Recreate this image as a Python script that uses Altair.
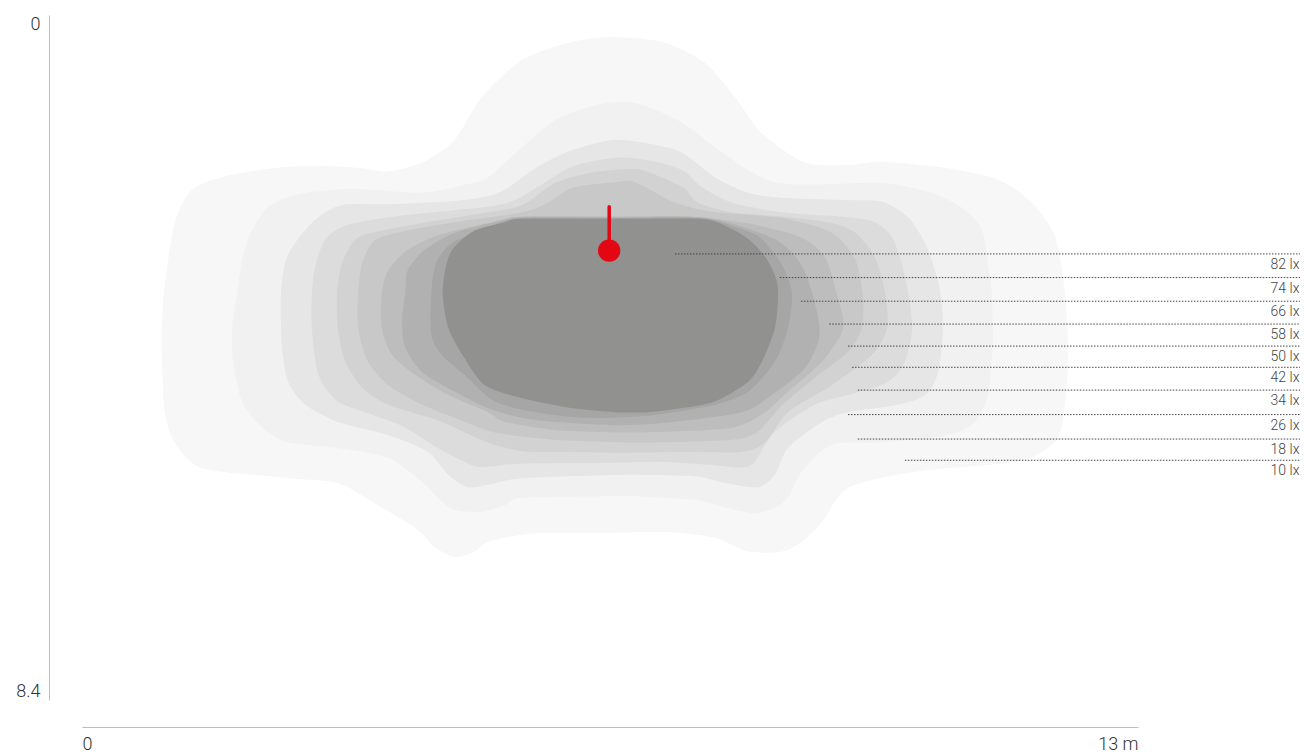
import altair as alt
import pandas as pd

# isolux levels (lx), from the outermost contour to the innermost one
LEVELS = [10, 18, 26, 34, 42, 50, 58, 66, 74, 82]
FILLS = ["#f7f7f7", "#f1f1f1", "#e6e6e6", "#dcdcdc", "#d2d2d2",
         "#c8c8c8", "#bdbdbd", "#b1b1b1", "#a6a6a6", "#919190"]

# contour outlines in metres (x across, y down)
ISO_10_X = [1.01, 1.14, 1.35, 1.72, 2.34, 2.95, 3.45, 3.77, 4.19, 4.59, 4.92, 5.42, 6.03, 6.56, 7.18, 7.67, 8.04, 8.37, 8.90, 9.43, 9.85, 10.66, 11.28, 11.69, 11.98, 12.10, 12.14, 12.06, 11.89, 11.49, 10.25, 9.43, 9.11, 8.86, 8.62, 8.20, 7.79, 7.18, 6.56, 5.54, 5.00, 4.84, 4.59, 4.35, 4.10, 3.57, 3.15, 2.54, 1.72, 1.39, 1.14, 1.02, 0.98]
ISO_10_Y = [3.41, 2.55, 2.15, 1.99, 1.88, 1.85, 1.88, 1.92, 1.81, 1.53, 1.01, 0.55, 0.33, 0.27, 0.34, 0.59, 1.01, 1.45, 1.81, 1.84, 1.80, 1.88, 2.02, 2.30, 2.72, 3.41, 4.25, 5.06, 5.31, 5.48, 5.60, 5.80, 6.22, 6.46, 6.58, 6.58, 6.41, 6.34, 6.35, 6.36, 6.46, 6.58, 6.65, 6.53, 6.29, 5.97, 5.74, 5.68, 5.60, 5.52, 5.24, 4.87, 4.05]

ISO_18_X = [1.91, 2.01, 2.25, 2.54, 2.83, 3.36, 4.19, 4.80, 5.00, 5.42, 5.82, 6.23, 6.56, 6.89, 7.39, 7.79, 8.20, 8.53, 9.02, 9.85, 10.46, 10.87, 11.08, 11.15, 11.20, 11.21, 11.15, 10.99, 10.66, 9.85, 9.23, 8.86, 8.69, 8.53, 8.28, 7.92, 7.58, 6.97, 6.56, 5.42, 5.21, 4.92, 4.59, 4.38, 4.19, 3.77, 3.15, 2.54, 2.22, 1.97, 1.86, 1.85]
ISO_18_Y = [3.41, 2.84, 2.39, 2.23, 2.17, 2.13, 2.18, 2.06, 1.99, 1.62, 1.29, 1.13, 1.07, 1.10, 1.32, 1.62, 1.90, 2.05, 2.08, 2.06, 2.18, 2.39, 2.64, 3.04, 3.41, 4.05, 4.66, 4.99, 5.15, 5.24, 5.27, 5.60, 5.92, 6.04, 6.11, 6.04, 5.95, 5.91, 5.90, 5.92, 6.01, 6.09, 6.07, 5.92, 5.73, 5.43, 5.31, 5.24, 5.06, 4.74, 4.25, 3.84]

ISO_26_X = [2.45, 2.50, 2.62, 2.87, 3.20, 3.77, 4.59, 5.00, 5.24, 5.61, 6.03, 6.56, 7.05, 7.39, 7.79, 8.20, 8.62, 9.43, 9.85, 10.17, 10.38, 10.50, 10.57, 10.60, 10.54, 10.38, 10.04, 9.43, 9.11, 8.69, 8.53, 8.32, 7.92, 7.58, 6.97, 6.56, 5.42, 5.00, 4.75, 4.51, 4.26, 3.77, 3.15, 2.75, 2.54, 2.46]
ISO_26_Y = [3.41, 3.04, 2.80, 2.51, 2.33, 2.32, 2.28, 2.22, 2.12, 1.86, 1.66, 1.53, 1.59, 1.69, 1.99, 2.18, 2.24, 2.27, 2.29, 2.48, 2.80, 3.13, 3.42, 3.84, 4.38, 4.66, 4.78, 4.87, 4.99, 5.31, 5.64, 5.79, 5.74, 5.66, 5.64, 5.64, 5.68, 5.76, 5.79, 5.64, 5.36, 5.15, 4.99, 4.78, 4.50, 4.05]

ISO_34_X = [2.83, 2.87, 2.99, 3.20, 3.57, 4.19, 5.00, 5.33, 5.61, 6.03, 6.56, 6.97, 7.39, 7.63, 8.00, 8.62, 9.43, 9.76, 9.97, 10.09, 10.17, 10.22, 10.13, 9.92, 9.43, 9.02, 8.53, 8.28, 8.12, 7.79, 7.18, 6.56, 5.42, 5.00, 4.80, 4.38, 3.98, 3.57, 3.15, 2.91, 2.83]
ISO_34_Y = [3.41, 3.09, 2.76, 2.60, 2.51, 2.43, 2.35, 2.27, 2.11, 1.86, 1.75, 1.78, 1.90, 2.11, 2.30, 2.42, 2.48, 2.54, 2.72, 3.04, 3.41, 3.84, 4.25, 4.50, 4.66, 4.78, 5.11, 5.48, 5.55, 5.52, 5.48, 5.49, 5.50, 5.54, 5.52, 5.31, 5.06, 4.90, 4.74, 4.41, 3.84]

ISO_42_X = [3.14, 3.20, 3.36, 3.57, 4.19, 5.00, 5.42, 5.82, 6.23, 6.56, 6.89, 7.39, 7.58, 8.00, 8.62, 9.23, 9.52, 9.76, 9.89, 9.91, 9.72, 9.23, 8.69, 8.41, 8.12, 7.39, 6.56, 5.82, 5.42, 5.08, 4.80, 4.38, 3.77, 3.45, 3.24, 3.15]
ISO_42_Y = [3.41, 3.04, 2.76, 2.67, 2.55, 2.42, 2.33, 2.06, 1.94, 1.90, 1.90, 2.11, 2.30, 2.42, 2.47, 2.55, 2.67, 2.97, 3.42, 3.84, 4.17, 4.54, 4.87, 5.24, 5.36, 5.36, 5.37, 5.36, 5.35, 5.27, 5.16, 4.97, 4.78, 4.57, 4.25, 3.84]

ISO_50_X = [3.40, 3.45, 3.61, 4.01, 4.59, 5.42, 5.74, 6.03, 6.56, 6.81, 7.30, 7.79, 8.62, 9.23, 9.52, 9.61, 9.60, 9.43, 9.02, 8.62, 8.32, 8.00, 7.18, 6.56, 5.82, 5.08, 4.59, 4.19, 3.77, 3.52, 3.40]
ISO_50_Y = [3.41, 3.04, 2.76, 2.64, 2.54, 2.42, 2.30, 2.12, 2.05, 2.05, 2.30, 2.42, 2.49, 2.67, 3.00, 3.42, 3.84, 4.13, 4.45, 4.78, 5.11, 5.21, 5.24, 5.24, 5.21, 5.12, 4.94, 4.78, 4.54, 4.25, 3.84]

ISO_58_X = [3.69, 3.77, 4.01, 4.38, 5.00, 5.42, 6.56, 7.48, 8.22, 8.86, 9.15, 9.29, 9.37, 9.11, 8.69, 8.37, 8.00, 7.18, 6.56, 5.82, 5.21, 5.00, 4.51, 4.10, 3.82, 3.69]
ISO_58_Y = [3.41, 3.13, 2.88, 2.70, 2.55, 2.47, 2.47, 2.47, 2.56, 2.73, 2.98, 3.41, 3.84, 4.25, 4.62, 4.90, 5.06, 5.11, 5.12, 5.09, 4.99, 4.87, 4.66, 4.41, 4.17, 3.84]

ISO_66_X = [3.98, 4.01, 4.22, 4.59, 5.21, 5.42, 6.56, 7.61, 8.10, 8.57, 8.84, 8.99, 9.08, 8.90, 8.49, 8.12, 7.18, 6.56, 5.61, 5.05, 4.59, 4.19, 3.98, 3.94]
ISO_66_Y = [3.41, 3.13, 2.88, 2.67, 2.51, 2.48, 2.48, 2.48, 2.59, 2.77, 3.04, 3.41, 3.92, 4.33, 4.66, 4.87, 5.00, 5.03, 4.97, 4.84, 4.62, 4.38, 4.08, 3.76]

ISO_74_X = [4.30, 4.36, 4.55, 5.00, 5.42, 6.56, 7.61, 8.04, 8.35, 8.62, 8.74, 8.69, 8.53, 8.20, 7.79, 7.09, 6.56, 6.03, 5.42, 5.05, 4.75, 4.43, 4.30]
ISO_74_Y = [3.41, 3.04, 2.80, 2.60, 2.49, 2.49, 2.49, 2.60, 2.73, 3.07, 3.41, 3.84, 4.25, 4.62, 4.78, 4.90, 4.94, 4.93, 4.84, 4.72, 4.45, 4.17, 3.92]

ISO_82_X = [4.44, 4.49, 4.59, 4.84, 5.21, 5.42, 6.56, 7.61, 7.95, 8.22, 8.42, 8.54, 8.57, 8.53, 8.37, 8.20, 7.79, 7.39, 6.97, 6.56, 6.03, 5.42, 4.96, 4.71, 4.51]
ISO_82_Y = [3.41, 3.04, 2.84, 2.64, 2.54, 2.50, 2.50, 2.50, 2.60, 2.76, 2.98, 3.22, 3.43, 3.84, 4.25, 4.50, 4.74, 4.82, 4.87, 4.87, 4.82, 4.70, 4.54, 4.21, 3.84]

ISO_X = [ISO_10_X, ISO_18_X, ISO_26_X, ISO_34_X, ISO_42_X,
         ISO_50_X, ISO_58_X, ISO_66_X, ISO_74_X, ISO_82_X]
ISO_Y = [ISO_10_Y, ISO_18_Y, ISO_26_Y, ISO_34_Y, ISO_42_Y,
         ISO_50_Y, ISO_58_Y, ISO_66_Y, ISO_74_Y, ISO_82_Y]

# legend leader lines (top to bottom)
LABEL_LEVELS = [82, 74, 66, 58, 50, 42, 34, 26, 18, 10]
LABEL_Y = [2.93, 3.22, 3.51, 3.79, 4.06, 4.32, 4.60, 4.90, 5.20, 5.46]
LINE_X0 = [7.30, 8.59, 8.85, 9.20, 9.43, 9.48, 9.55, 9.43, 9.55, 10.13]
LINE_X1 = 15.0

# luminaire position (m)
LAMP_X = 6.49
LAMP_Y_TOP = 2.35
LAMP_Y = 2.89

FONT = "Roboto"

xscale = alt.Scale(domain=[0, 13], nice=False, zero=False)
yscale = alt.Scale(domain=[0, 8.4], reverse=True, nice=False, zero=False)

xaxis = alt.Axis(values=[0, 13], labelExpr="datum.value == 13 ? '13 m' : '0'",
                 offset=27, ticks=False, grid=False, domainColor="#bdbdbd", domainWidth=1,
                 labelFlush=True, labelPadding=8, labelFontSize=18, labelFont=FONT,
                 labelFontWeight=300, labelColor="#333333", title=None)
yaxis = alt.Axis(values=[0, 8.4], labelExpr="datum.value == 0 ? '0' : '8.4'",
                 offset=33, ticks=False, grid=False,
                 domainColor="#bdbdbd", domainWidth=1, labelFlush=True, labelPadding=9,
                 labelFontSize=18, labelFont=FONT, labelFontWeight=300,
                 labelColor="#333333", title=None)

layers = []
for lvl, col, xs, ys in zip(LEVELS, FILLS, ISO_X, ISO_Y):
    d = pd.DataFrame({"x": xs, "y": ys, "i": list(range(len(xs)))})
    layers.append(
        alt.Chart(d).mark_line(filled=True, color=col, interpolate="cardinal-closed",
                               tension=0.2)
        .encode(x=alt.X("x:Q", scale=xscale, axis=xaxis),
                y=alt.Y("y:Q", scale=yscale, axis=yaxis),
                order=alt.Order("i:Q"))
    )

lab = pd.DataFrame({"x": LINE_X0, "x1": [LINE_X1] * len(LINE_X0), "y": LABEL_Y,
                    "text": [f"{v} lx" for v in LABEL_LEVELS]})

leaders = alt.Chart(lab).mark_rule(color="#444444", strokeWidth=1, strokeDash=[1.5, 1.5],
                                   clip=False).encode(
    x=alt.X("x:Q", scale=xscale, axis=xaxis), x2="x1:Q",
    y=alt.Y("y:Q", scale=yscale, axis=yaxis))

texts = alt.Chart(lab).mark_text(align="right", baseline="top", dy=4, dx=-1, fontSize=14,
                                 font=FONT, fontWeight=300, color="#444444").encode(
    x=alt.X("x1:Q", scale=xscale, axis=xaxis),
    y=alt.Y("y:Q", scale=yscale, axis=yaxis), text="text:N")

lamp = pd.DataFrame({"x": [LAMP_X], "y": [LAMP_Y], "y0": [LAMP_Y_TOP]})
stick = alt.Chart(lamp).mark_rule(color="#e30613", strokeWidth=3.5, strokeCap="round").encode(
    x=alt.X("x:Q", scale=xscale, axis=xaxis),
    y=alt.Y("y0:Q", scale=yscale, axis=yaxis), y2="y:Q")
dot = alt.Chart(lamp).mark_circle(color="#e30613", size=500, opacity=1).encode(
    x=alt.X("x:Q", scale=xscale, axis=xaxis),
    y=alt.Y("y:Q", scale=yscale, axis=yaxis))

chart = alt.layer(*layers, leaders, texts, stick, dot).properties(
    width=1056, height=685,
    autosize=alt.AutoSizeParams(type="none"),
    padding={"left": 74, "top": 7, "right": 162, "bottom": 54},
    background="white",
).configure_view(strokeWidth=0)

chart.save("out.html", embed_options={"renderer": "svg", "actions": False})
